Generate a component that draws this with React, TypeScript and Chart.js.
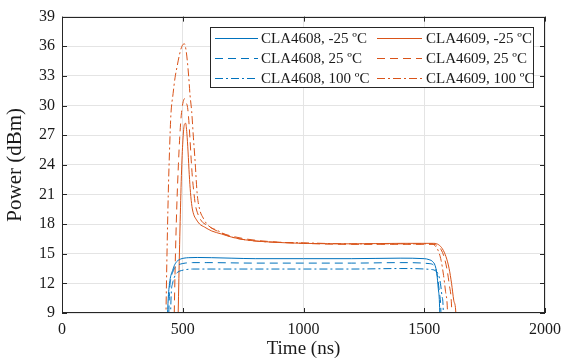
import React, { useEffect, useRef } from "react";
import { Chart, registerables } from "chart.js";

Chart.register(...registerables);

// ---------- data ----------
const xTickValues = [0, 500, 1000, 1500, 2000];
const yTickValues = [9, 12, 15, 18, 21, 24, 27, 30, 33, 36, 39];

const seriesLabels = [
  "CLA4608, -25 ºC",
  "CLA4608, 25 ºC",
  "CLA4608, 100 ºC",
  "CLA4609, -25 ºC",
  "CLA4609, 25 ºC",
  "CLA4609, 100 ºC",
];

// CLA4608, -25 ºC
const t4608m25 = [431, 440, 447, 452, 458, 465, 475, 490, 505, 525, 560, 620, 700, 800, 1000, 1200, 1400, 1500, 1520, 1535, 1545, 1552, 1558, 1563, 1568];
const p4608m25 = [5, 10.5, 12.3, 12.9, 13.3, 13.8, 14.2, 14.45, 14.55, 14.6, 14.62, 14.6, 14.55, 14.5, 14.5, 14.5, 14.55, 14.5, 14.4, 14.2, 13.8, 13.0, 11.5, 10, 5];

// CLA4608, 25 ºC
const t4608p25 = [438, 445, 452, 458, 465, 475, 490, 510, 540, 600, 800, 1000, 1200, 1400, 1520, 1540, 1550, 1557, 1563, 1568, 1573];
const p4608p25 = [5, 11, 12.6, 13.1, 13.5, 13.8, 13.95, 14.05, 14.1, 14.1, 14.05, 14.05, 14.05, 14.1, 14.0, 13.8, 13.3, 12.3, 11, 9.8, 5];

// CLA4608, 100 ºC
const t4608p100 = [446, 452, 458, 465, 472, 480, 495, 515, 540, 600, 800, 1000, 1200, 1400, 1530, 1550, 1560, 1567, 1573, 1578, 1583];
const p4608p100 = [5, 10.8, 12.0, 12.6, 12.95, 13.15, 13.3, 13.4, 13.45, 13.45, 13.45, 13.45, 13.45, 13.5, 13.4, 13.2, 12.8, 12.0, 10.8, 9.7, 5];

// CLA4609, -25 ºC
const t4609m25 = [478, 484, 490, 496, 502, 507, 512, 517, 522, 527, 532, 538, 545, 555, 570, 590, 620, 660, 700, 760, 850, 1000, 1200, 1400, 1540, 1560, 1575, 1590, 1603, 1613, 1622, 1630, 1638];
const p4609m25 = [5, 12.5, 19, 24, 27, 28.1, 28.2, 27.2, 25.3, 23.0, 21.2, 19.8, 19.0, 18.5, 18.0, 17.7, 17.3, 17.0, 16.7, 16.4, 16.2, 16.05, 16.0, 16.05, 16.05, 15.9, 15.5, 14.7, 13.5, 12, 10.3, 9.3, 5];

// CLA4609, 25 ºC
const t4609p25 = [462, 468, 475, 482, 488, 495, 502, 508, 514, 520, 525, 530, 535, 540, 546, 552, 560, 578, 600, 626, 660, 700, 760, 850, 1000, 1200, 1400, 1540, 1555, 1570, 1583, 1595, 1604, 1612, 1620];
const p4609p25 = [5, 13, 19.5, 24, 27, 29.3, 30.4, 30.7, 30.3, 29.8, 28.5, 26.6, 24.5, 22.7, 21.2, 20.0, 19.2, 18.3, 17.9, 17.5, 17.1, 16.8, 16.5, 16.25, 16.05, 15.95, 15.95, 15.95, 15.8, 15.4, 14.6, 13.3, 11.8, 10.2, 5];

// CLA4609, 100 ºC
const t4609p100 = [428, 434, 440, 446, 451, 460, 468, 477, 486, 495, 502, 507, 513, 519, 525, 530, 537, 544, 551, 560, 571, 585, 600, 620, 640, 670, 700, 760, 850, 1000, 1200, 1400, 1530, 1545, 1558, 1570, 1580, 1588, 1595, 1602];
const p4609p100 = [5, 14, 21, 26, 29.1, 31.2, 32.8, 34.0, 35.1, 35.9, 36.2, 36.25, 35.7, 34.5, 32.8, 31.1, 29.4, 26.8, 24.4, 21.0, 19.4, 18.6, 18.0, 17.6, 17.4, 17.0, 16.7, 16.4, 16.2, 16.1, 16.0, 16.0, 16.0, 15.8, 15.3, 14.3, 12.8, 11.2, 9.8, 5];

const seriesTimes = [t4608m25, t4608p25, t4608p100, t4609m25, t4609p25, t4609p100];
const seriesPowers = [p4608m25, p4608p25, p4608p100, p4609m25, p4609p25, p4609p100];

// ---------- styles ----------
const BLUE = "#0072BD";
const ORANGE = "#D95319";
const TEXT = "#1a1a1a";
const DASHES: number[][] = [[], [8, 5], [8, 3, 2, 3]];
const FONT = '"Liberation Serif", "Times New Roman", serif';

const framePlugin = {
  id: "matlabFrame",
  afterDatasetsDraw(chart: any) {
    const { ctx, chartArea, scales } = chart;
    const { left, right, top, bottom } = chartArea;
    ctx.save();
    ctx.strokeStyle = "#262626";
    ctx.lineWidth = 1;
    ctx.setLineDash([]);
    ctx.beginPath();
    const tl = 5;
    xTickValues.forEach((v) => {
      const px = Math.round(scales.x.getPixelForValue(v)) + 0.5;
      ctx.moveTo(px, bottom);
      ctx.lineTo(px, bottom - tl);
      ctx.moveTo(px, top);
      ctx.lineTo(px, top + tl);
    });
    yTickValues.forEach((v) => {
      const py = Math.round(scales.y.getPixelForValue(v)) + 0.5;
      ctx.moveTo(left, py);
      ctx.lineTo(left + tl, py);
      ctx.moveTo(right, py);
      ctx.lineTo(right - tl, py);
    });
    ctx.stroke();
    ctx.strokeRect(Math.round(left) + 0.5, Math.round(top) + 0.5, Math.round(right - left) - 1, Math.round(bottom - top) - 1);
    ctx.restore();
  },
};

const legendPlugin = {
  id: "boxLegend",
  afterDraw(chart: any) {
    const ctx = chart.ctx;
    const bx = 210.5, by = 27.5, bw = 323, bh = 60;
    ctx.save();
    ctx.fillStyle = "#ffffff";
    ctx.fillRect(bx, by, bw, bh);
    ctx.strokeStyle = "#262626";
    ctx.lineWidth = 1;
    ctx.setLineDash([]);
    ctx.strokeRect(bx, by, bw, bh);
    ctx.font = `15px ${FONT}`;
    ctx.textBaseline = "middle";
    ctx.textAlign = "left";
    const cols = [
      { lx0: 215, lx1: 258, tx: 261 },
      { lx0: 377, lx1: 422, tx: 426 },
    ];
    const rows = [38, 58, 78];
    chart.data.datasets.forEach((ds: any, i: number) => {
      const c = cols[Math.floor(i / 3)];
      const ry = rows[i % 3];
      ctx.strokeStyle = ds.borderColor;
      ctx.lineWidth = 1;
      ctx.setLineDash(ds.borderDash || []);
      ctx.beginPath();
      ctx.moveTo(c.lx0, ry + 0.5);
      ctx.lineTo(c.lx1, ry + 0.5);
      ctx.stroke();
      ctx.setLineDash([]);
      ctx.fillStyle = TEXT;
      ctx.fillText(ds.label, c.tx, ry + 1);
    });
    ctx.restore();
  },
};

export default function App() {
  const canvasRef = useRef<HTMLCanvasElement | null>(null);

  useEffect(() => {
    document.body.style.margin = "0";
    const canvas = canvasRef.current;
    if (!canvas) return;
    const datasets = seriesLabels.map((label, i) => ({
      label,
      data: seriesTimes[i].map((t, j) => ({ x: t, y: seriesPowers[i][j] })),
      borderColor: i < 3 ? BLUE : ORANGE,
      backgroundColor: i < 3 ? BLUE : ORANGE,
      borderWidth: 1,
      borderDash: DASHES[i % 3],
      pointRadius: 0,
      fill: false,
      cubicInterpolationMode: "monotone" as const,
    }));
    const chart = new Chart(canvas, {
      type: "line",
      data: { datasets },
      options: {
        animation: false,
        responsive: false,
        maintainAspectRatio: false,
        devicePixelRatio: 1,
        layout: { padding: { top: 15, right: 20, left: 0, bottom: 0 } },
        plugins: {
          legend: { display: false },
          tooltip: { enabled: false },
        },
        scales: {
          x: {
            type: "linear",
            min: 0,
            max: 2000,
            afterFit: (s: any) => { s.height = 50; },
            afterBuildTicks: (s: any) => { s.ticks = xTickValues.map((v) => ({ value: v })); },
            ticks: { color: TEXT, font: { family: FONT, size: 16 }, padding: 7, maxRotation: 0, callback: (v: any) => String(v) },
            grid: { color: "#e4e4e4", drawTicks: false },
            border: { display: false },
            title: { display: true, text: "Time (ns)", color: TEXT, font: { family: FONT, size: 19 }, padding: { top: 0, bottom: 3 } },
          },
          y: {
            type: "linear",
            min: 9,
            max: 39,
            afterFit: (s: any) => { s.width = 62; },
            afterBuildTicks: (s: any) => { s.ticks = yTickValues.map((v) => ({ value: v })); },
            ticks: { color: TEXT, font: { family: FONT, size: 16 }, padding: 7, callback: (v: any) => String(v) },
            grid: { color: "#e4e4e4", drawTicks: false },
            border: { display: false },
            title: { display: true, text: "Power (dBm)", color: TEXT, font: { family: FONT, size: 21 }, padding: { top: 3, bottom: 0 } },
          },
        },
      },
      plugins: [framePlugin, legendPlugin],
    });
    return () => chart.destroy();
  }, []);

  return (
    <div style={{ position: "absolute", left: 0, top: 0, width: 568, height: 363, background: "#fff" }}>
      <canvas ref={canvasRef} width={568} height={363} style={{ display: "block" }} />
    </div>
  );
}
